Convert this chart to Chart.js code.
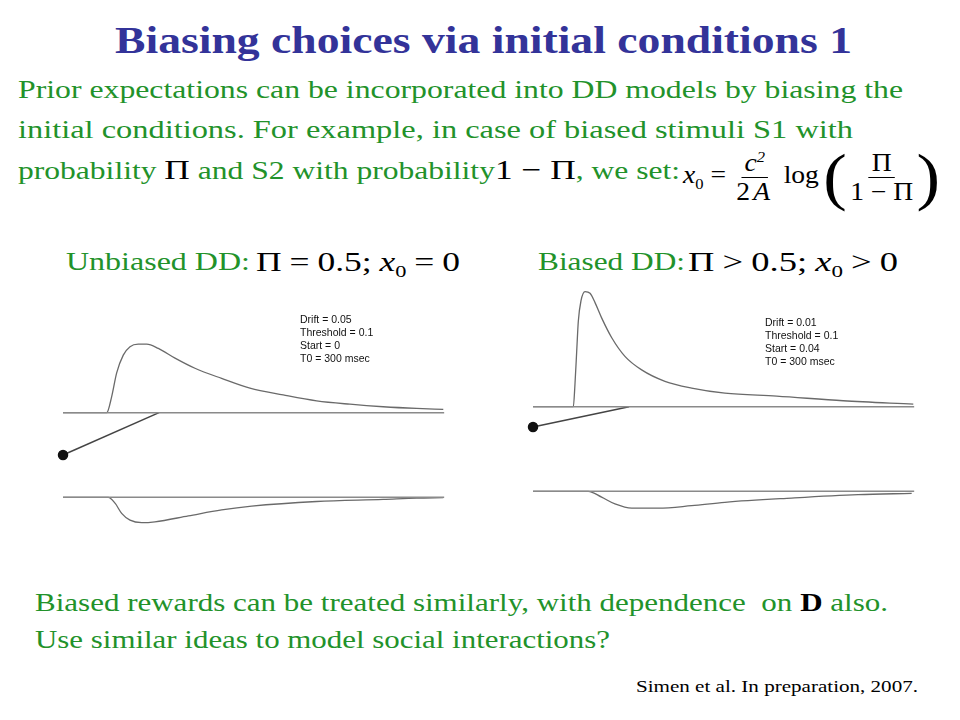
<!DOCTYPE html>
<html>
<head>
<meta charset="utf-8">
<script src="https://cdn.jsdelivr.net/npm/chart.js@4"></script>
<style>
body { margin:0; background:#fff; }
#slide { position:relative; width:960px; height:720px; overflow:hidden; font-family:"Liberation Serif", serif; }
.t { position:absolute; white-space:nowrap; transform-origin:left center; }
.g { color:#22922a; }
.m { font-family:"Liberation Serif", serif; color:#000; }
.it { font-style:italic; }
.frac { display:inline-flex; flex-direction:column; align-items:center; vertical-align:middle; }
.frac span { line-height:1.1; padding:0 3px; }
.frac .num { border-bottom:1px solid #000; }
.sp { display:inline-block; width:6px; }
.lbl { position:absolute; font-family:"Liberation Sans", Arial, sans-serif; font-size:10.5px; line-height:13px; color:#111; }
canvas { position:absolute; }
</style>
</head>
<body>
<div id="slide">
  <div class="t" data-w="737" style="left:115px; top:18px; font-size:38px; line-height:44px; font-weight:bold; color:#333399;">Biasing choices via initial conditions 1</div>
  <div class="t g" data-w="885" style="left:18px; top:74px; font-size:25px; line-height:32px;">Prior expectations can be incorporated into DD models by biasing the</div>
  <div class="t g" data-w="835" style="left:18px; top:114px; font-size:25px; line-height:32px;">initial conditions. For example, in case of biased stimuli S1 with</div>
  <div class="t g" data-w="662" style="left:18px; top:154px; font-size:25px; line-height:32px;">probability <span class="m" style="font-size:28px;">&Pi;</span> and S2 with probability<span class="m" style="font-size:28px;">1 &minus; &Pi;</span>, we set:</div>
  <div class="t m" data-w="257" style="left:683px; top:141px; font-size:25px; line-height:68px;">
    <span class="it">x</span><sub style="font-size:15px;">0</sub> =
    <span class="frac"><span class="num it">c<sup style="font-size:15px;">2</sup></span><span>2<span class="it">A</span></span></span>
    log<span style="font-size:64px; vertical-align:middle; margin-left:4px;">(</span><span class="frac"><span class="num">&Pi;</span><span>1 &minus; &Pi;</span></span><span style="font-size:64px; vertical-align:middle;">)</span>
  </div>

  <div class="t g" data-w="184" style="left:66px; top:246px; font-size:26px; line-height:32px;">Unbiased DD:</div>
  <div class="t m" data-w="204" style="left:256px; top:246px; font-size:27px; line-height:32px;">&Pi;<span class="sp"></span>=<span class="sp"></span>0.5;<span class="sp"></span><span class="it">x</span><sub style="font-size:17px;">0</sub><span class="sp"></span>=<span class="sp"></span>0</div>
  <div class="t g" data-w="147" style="left:538px; top:246px; font-size:26px; line-height:32px;">Biased DD:</div>
  <div class="t m" data-w="210" style="left:688px; top:246px; font-size:27px; line-height:32px;">&Pi;<span class="sp"></span>&gt;<span class="sp"></span>0.5;<span class="sp"></span><span class="it">x</span><sub style="font-size:17px;">0</sub><span class="sp"></span>&gt;<span class="sp"></span>0</div>

  <canvas id="left" width="420" height="260" style="left:40px; top:280px;"></canvas>
  <canvas id="right" width="420" height="260" style="left:510px; top:274px;"></canvas>

  <div class="lbl" style="left:300px; top:313px;">Drift = 0.05<br>Threshold = 0.1<br>Start = 0<br>T0 = 300 msec</div>
  <div class="lbl" style="left:765px; top:316px;">Drift = 0.01<br>Threshold = 0.1<br>Start = 0.04<br>T0 = 300 msec</div>

  <div class="t g" data-w="853" style="left:35px; top:587px; font-size:25px; line-height:32px;">Biased rewards can be treated similarly, with dependence &nbsp;on <b style="color:#000;">D</b> also.</div>
  <div class="t g" data-w="575" style="left:35px; top:624px; font-size:25px; line-height:32px;">Use similar ideas to model social interactions?</div>
  <div class="t" data-w="282" style="left:636px; top:676px; font-size:17px; line-height:22px; color:#000;">Simen et al. In preparation, 2007.</div>
</div>

<script>
// threshold / axis extent, same for both panels
var threshold = 0.1;
var tEnd = 2600;

// unbiased panel (Drift 0.05, Start 0)
var leftStart = 0;
var leftHitT = 655;
var leftUpT = [0, 298, 332, 366, 411, 457, 513, 571, 650, 764, 900, 1082, 1275, 1502, 1730, 1957, 2184, 2412, 2594];
var leftUpH = [0, 0, 0.038, 0.094, 0.136, 0.156, 0.162, 0.162, 0.152, 0.129, 0.105, 0.081, 0.058, 0.042, 0.028, 0.020, 0.014, 0.010, 0.008];
var leftLoT = [0, 309, 355, 400, 457, 537, 627, 855, 1082, 1287, 1730, 2184, 2412, 2594];
var leftLoH = [0, 0, 0.014, 0.038, 0.054, 0.060, 0.058, 0.044, 0.030, 0.021, 0.010, 0.005, 0.002, 0.001];

// biased panel (Drift 0.01, Start 0.04)
var rightStart = 0.052;
var rightHitT = 655;
var rightUpT = [0, 275, 286, 298, 309, 327, 355, 389, 423, 468, 537, 627, 741, 900, 1082, 1309, 1662, 2116, 2594];
var rightUpH = [0, 0, 0.052, 0.131, 0.202, 0.250, 0.272, 0.268, 0.246, 0.210, 0.163, 0.119, 0.087, 0.060, 0.044, 0.032, 0.025, 0.014, 0.006];
var rightLoT = [0, 377, 468, 559, 673, 855, 1082, 1309, 1764, 2218, 2583];
var rightLoH = [0, 0, 0.014, 0.030, 0.040, 0.040, 0.034, 0.026, 0.016, 0.008, 0.005];

function pts(ts, hs, sign) {
	return ts.map(function (t, i) { return {x: t, y: sign * (threshold + hs[i])}; });
}

function panel(id, start, hitT, upT, upH, loT, loH) {
	var ctx = document.getElementById(id).getContext('2d');
	new Chart(ctx, {
		type: 'line',
		data: {
			datasets: [
				{data: [{x: 0, y: threshold}, {x: tEnd, y: threshold}], borderColor: '#8a8a8a', borderWidth: 1.6},
				{data: [{x: 0, y: -threshold}, {x: tEnd, y: -threshold}], borderColor: '#8a8a8a', borderWidth: 1.6},
				{data: pts(upT, upH, 1), borderColor: '#6a6a6a', borderWidth: 1.3, cubicInterpolationMode: 'monotone'},
				{data: pts(loT, loH, -1), borderColor: '#6a6a6a', borderWidth: 1.3, cubicInterpolationMode: 'monotone'},
				{data: [{x: 0, y: start}, {x: hitT, y: threshold}], borderColor: '#444', borderWidth: 1.5,
					pointRadius: [4.5, 0], pointBackgroundColor: '#111', pointBorderColor: '#111'}
			]
		},
		options: {
			responsive: false,
			animation: false,
			layout: {padding: 0, autoPadding: false},
			elements: {point: {radius: 0}},
			plugins: {legend: {display: false}, tooltip: {enabled: false}},
			scales: {
				x: {type: 'linear', display: false, min: -157, max: 2708},
				y: {type: 'linear', display: false, min: -0.201, max: 0.4137}
			}
		}
	});
}

panel('left', leftStart, leftHitT, leftUpT, leftUpH, leftLoT, leftLoH);
panel('right', rightStart, rightHitT, rightUpT, rightUpH, rightLoT, rightLoH);

// squeeze/stretch text lines to the widths in the slide
document.querySelectorAll('[data-w]').forEach(function (el) {
	var w = el.getBoundingClientRect().width;
	var target = parseFloat(el.getAttribute('data-w'));
	el.style.transform = 'scaleX(' + (target / w) + ')';
});
</script>
</body>
</html>
